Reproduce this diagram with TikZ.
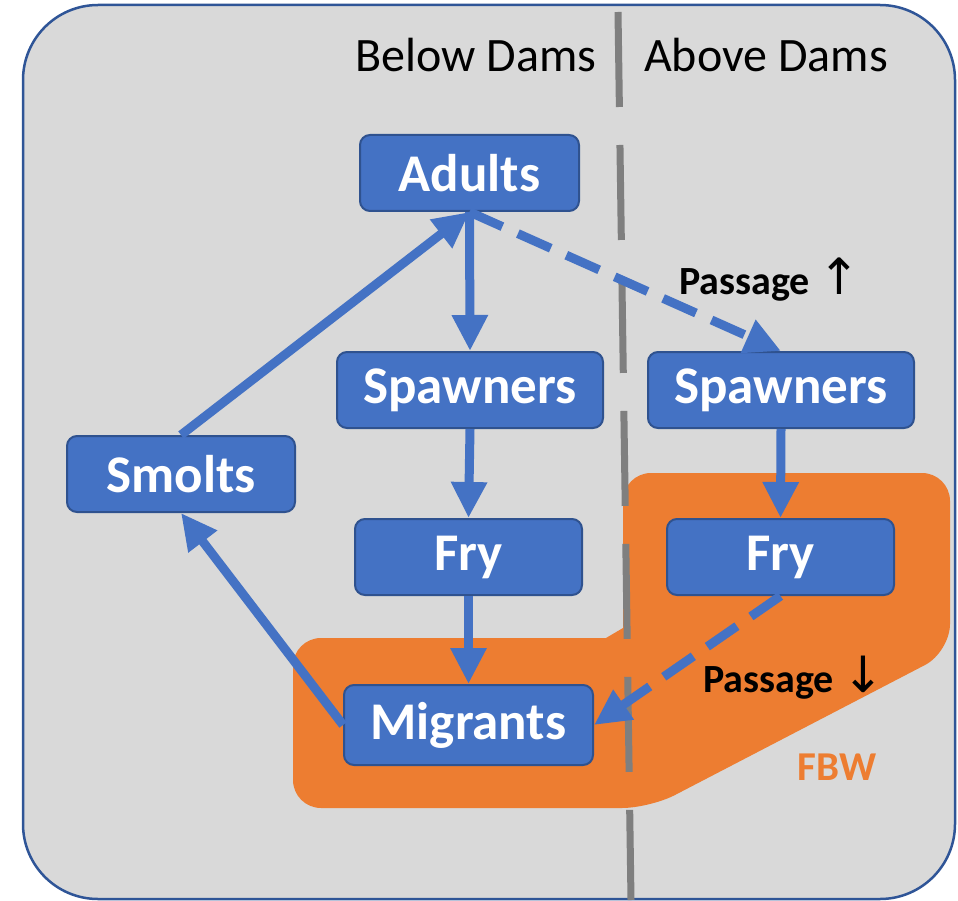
\documentclass[tikz,border=0pt]{standalone}
\usepackage{fontspec}
\setmainfont{Carlito}
\newfontfamily\arrowfont{DejaVu Sans}
\usetikzlibrary{arrows.meta}
\definecolor{bgfill}{HTML}{D9D9D9}
\definecolor{bgedge}{HTML}{2F5597}
\definecolor{boxblue}{HTML}{4472C4}
\definecolor{boxedge}{HTML}{2F528F}
\definecolor{fbworange}{HTML}{ED7D31}
\definecolor{damgray}{HTML}{7F7F7F}
\newcommand{\uparr}{{\arrowfont\mdseries\fontsize{50}{50}\selectfont ↑}}
\newcommand{\downarr}{{\arrowfont\mdseries\fontsize{50}{50}\selectfont ↓}}
\tikzset{
  stage/.style={rectangle, rounded corners=10pt, fill=boxblue, draw=boxedge,
    line width=2pt, text=white, font=\bfseries\fontsize{53}{60}\selectfont,
    minimum height=76pt, inner sep=0pt},
  flow/.style={draw=boxblue, line width=9pt, -{Triangle[length=36pt,width=34pt]}},
  passflow/.style={flow, dash pattern=on 36pt off 17pt},
  header/.style={font=\fontsize{48}{54}\selectfont, text=black},
  passlabel/.style={font=\bfseries\fontsize{40}{46}\selectfont, text=black},
  fbwlabel/.style={font=\bfseries\fontsize{41}{46}\selectfont, text=fbworange},
  damline/.style={draw=damgray, line width=7pt, dash pattern=on 95pt off 38pt}
}
\begin{document}
\begin{tikzpicture}[x=1pt,y=-1pt]
\useasboundingbox (0,0) rectangle (958,901);
% background panel
\draw[fill=bgfill, draw=bgedge, line width=2.5pt, rounded corners=75pt] (23,5) rectangle (955,899);
% FBW region
\fill[fbworange] (623,560) [rounded corners=28pt] -- (623,473) -- (950,473) -- (950,652) -- (650,808)
  -- (293,808) -- (293,638) -- (450,638) [sharp corners] -- (606,638) -- (623,628) -- cycle;
% dam line
\draw[damline] (618,12) -- (631,900);
% headers
\node[header] (below) at (476,55) {Below Dams};
\node[header] (above) at (766,55) {Above Dams};
% stage boxes
\node[stage, minimum width=219pt] (adults) at (469.5,173) {Adults};
\node[stage, minimum width=266pt] (spawnL) at (470,390) {Spawners};
\node[stage, minimum width=266pt] (spawnR) at (781,390) {Spawners};
\node[stage, minimum width=228pt] (smolts) at (181,474) {Smolts};
\node[stage, minimum width=227pt] (fryL) at (468.5,557) {Fry};
\node[stage, minimum width=227pt] (fryR) at (780.5,557) {Fry};
\node[stage, minimum width=249pt, minimum height=80pt] (migrants) at (468.5,725) {Migrants};
% labels
\node[passlabel] (passUp) at (770,280) {Passage \uparr};
\node[passlabel] (passDown) at (794,678) {Passage \downarr};
\node[fbwlabel] (fbw) at (837,767) {FBW};
% connectors
\draw[flow] (adults.south) -- (spawnL.north);
\draw[flow] (spawnL.south) -- (fryL.north);
\draw[flow] (fryL.south) -- (migrants.north);
\draw[flow] (spawnR.south) -- (fryR.north);
\draw[flow] (migrants.west) -- (smolts.south);
\draw[flow] (smolts.north) -- (adults.south);
\draw[passflow] (adults.south) -- (spawnR.north);
\draw[passflow] (fryR.south) -- (migrants.east);
\end{tikzpicture}
\end{document}
